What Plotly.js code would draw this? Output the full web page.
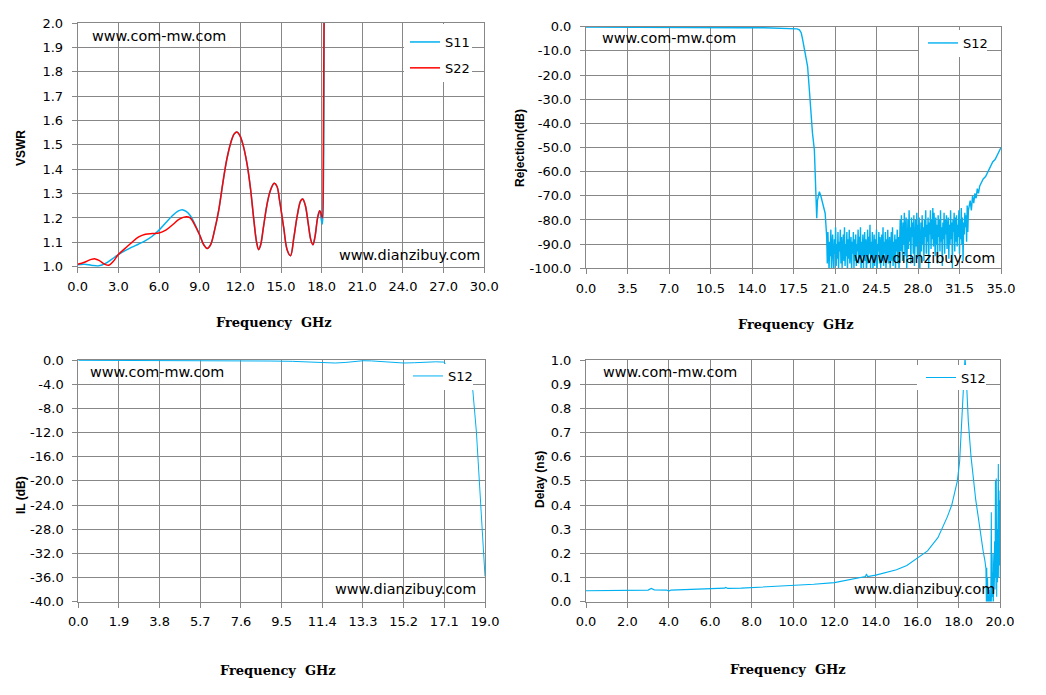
<!DOCTYPE html>
<html>
<head>
<meta charset="utf-8">
<script src="https://cdn.plot.ly/plotly-3.0.1.min.js"></script>
<style>
  html, body { margin: 0; padding: 0; background: #fff; }
  #chart { width: 1046px; height: 695px; }
</style>
</head>
<body>
<div id="chart"></div>
<script>
// ---- VSWR (S11 / S22) ----
const vswrS11Freq = [0, 0.5, 1.0, 1.5, 2.0, 2.5, 3.0, 3.5, 4.0, 4.5, 5.0, 5.5, 6.0, 6.5, 7.0, 7.4, 7.7, 8.0, 8.3, 8.6, 9.0, 9.3, 9.55, 9.8, 10.1, 10.4, 10.7, 11.0, 11.3, 11.55, 11.75, 11.95, 12.2, 12.5, 12.75, 13.0, 13.2, 13.35, 13.5, 13.7, 13.95, 14.2, 14.5, 14.7, 14.9, 15.2, 15.45, 15.7, 15.95, 16.2, 16.45, 16.6, 16.8, 17.0, 17.2, 17.35, 17.5, 17.7, 17.85, 17.95, 18.05, 18.12, 18.2];
const vswrS11 = [1.008, 1.01, 1.006, 1.003, 1.012, 1.03, 1.05, 1.066, 1.08, 1.093, 1.107, 1.125, 1.15, 1.18, 1.21, 1.228, 1.234, 1.227, 1.21, 1.18, 1.13, 1.09, 1.075, 1.09, 1.15, 1.23, 1.34, 1.44, 1.51, 1.545, 1.553, 1.54, 1.50, 1.42, 1.32, 1.19, 1.10, 1.07, 1.09, 1.16, 1.25, 1.31, 1.342, 1.33, 1.27, 1.16, 1.07, 1.045, 1.12, 1.21, 1.27, 1.278, 1.25, 1.18, 1.11, 1.09, 1.12, 1.2, 1.23, 1.2, 1.175, 1.3, 2.3];
const vswrS22Freq = [0, 0.5, 1.0, 1.3, 1.6, 2.0, 2.3, 2.6, 3.0, 3.5, 4.0, 4.5, 5.0, 5.5, 6.0, 6.5, 7.0, 7.5, 8.0, 8.3, 8.6, 9.0, 9.3, 9.55, 9.8, 10.1, 10.4, 10.7, 11.0, 11.3, 11.55, 11.75, 11.95, 12.2, 12.5, 12.75, 13.0, 13.2, 13.35, 13.5, 13.7, 13.95, 14.2, 14.5, 14.7, 14.9, 15.2, 15.45, 15.7, 15.95, 16.2, 16.45, 16.6, 16.8, 17.0, 17.2, 17.35, 17.5, 17.7, 17.85, 17.95, 18.05, 18.12, 18.2];
const vswrS22 = [1.01, 1.018, 1.03, 1.032, 1.025, 1.01, 1.006, 1.02, 1.05, 1.075, 1.1, 1.122, 1.133, 1.136, 1.138, 1.15, 1.172, 1.195, 1.205, 1.2, 1.175, 1.13, 1.09, 1.075, 1.09, 1.15, 1.23, 1.34, 1.44, 1.51, 1.545, 1.553, 1.54, 1.50, 1.42, 1.32, 1.19, 1.10, 1.07, 1.09, 1.16, 1.25, 1.31, 1.342, 1.33, 1.27, 1.16, 1.07, 1.045, 1.12, 1.21, 1.27, 1.278, 1.25, 1.18, 1.11, 1.09, 1.12, 1.2, 1.23, 1.22, 1.2, 1.45, 2.3];
const vswrFreqTicks = [0, 3, 6, 9, 12, 15, 18, 21, 24, 27, 30];
const vswrTicks = [1.0, 1.1, 1.2, 1.3, 1.4, 1.5, 1.6, 1.7, 1.8, 1.9, 2.0];

// ---- Rejection (S12) ----
const rejPassFreq = [0, 1, 3, 5, 7, 9, 11, 13, 15, 16, 17, 17.5, 17.8, 18.0, 18.15, 18.26, 18.4, 18.55, 18.69, 18.85, 18.98, 19.1, 19.26, 19.4, 19.46, 19.52, 19.6, 19.68, 19.8, 19.97, 20.17];
const rejPass = [-0.1, -0.15, -0.2, -0.25, -0.3, -0.35, -0.4, -0.45, -0.45, -0.5, -0.55, -0.65, -0.9, -1.3, -2.5, -5, -9, -13, -16.5, -27, -37.2, -44, -51, -66.2, -79.3, -72, -69, -68.3, -70, -73, -77.2];
// stopband floor, 0.05 GHz sweep from 20.3 GHz
const rejFloorStart = 20.3;
const rejFloorStep = 0.05;
const rejFloor = [
  -87, -98, -85, -93, -101, -89, -95, -84, -100, -91,
  -86, -97, -103, -88, -94, -83, -99, -90, -96, -85,
  -101, -89, -93, -84, -98, -87, -100, -92, -86, -97,
  -83, -99, -90, -95, -85, -102, -88, -96, -84, -98,
  -91, -87, -101, -89, -94, -85, -100, -88, -97, -86,
  -99, -90, -93, -84, -98, -87, -96, -83, -102, -89,
  -95, -86, -100, -91, -85, -97, -88, -103, -90, -84,
  -98, -87, -94, -82, -100, -89, -96, -85, -101, -92,
  -86, -99, -88, -95, -84, -102, -90, -93, -85, -98,
  -87, -100, -91, -86, -97, -83, -99, -89, -94, -85,
  -101, -88, -96, -84, -98, -90, -87, -100, -92, -85,
  -97, -83, -99, -89, -95, -86, -102, -88, -93, -84,
  -98, -87, -100, -90,
  -80, -93, -78, -88, -97, -81, -90, -77, -95, -84,
  -79, -100, -86, -80, -92, -76, -89, -83, -98, -79,
  -87, -81, -94, -78, -99, -85, -80, -91, -77, -96,
  -82, -89, -79, -101, -84, -81, -93, -78, -90, -83,
  -97, -80, -87, -76, -94, -82, -89, -79, -100, -81,
  -86, -76, -92, -80, -88, -75, -91, -77, -84, -95,
  -79, -90, -82, -98, -78, -87, -80, -93, -76, -89,
  -83, -99, -81, -88, -77, -94, -80, -86, -78, -92,
  -84, -79, -96, -82, -90, -76, -88, -81, -100, -80,
  -85, -77, -93, -79, -89, -78, -91, -82, -87, -76,
  -94, -80, -88, -75, -90, -79, -97, -81, -86, -77,
  -83, -78, -89, -74, -85, -76
];
const rejRiseFreq = [32.3, 32.4, 32.5, 32.6, 32.7, 32.8, 32.9, 33.0, 33.1, 33.2, 33.3, 33.5, 33.7, 33.9, 34.1, 34.3, 34.5, 34.7, 34.85, 35.0];
const rejRise = [-74, -72, -76, -70, -73, -69, -71, -67, -69, -66, -65, -63, -62, -60, -58, -56, -55, -53, -51.5, -50];
const rejFreqTicks = [0, 3.5, 7, 10.5, 14, 17.5, 21, 24.5, 28, 31.5, 35];
const rejTicks = [0, -10, -20, -30, -40, -50, -60, -70, -80, -90, -100];

// ---- Insertion loss (S12) ----
const ilFreq = [0, 1, 2, 3, 4, 5, 6, 7, 8, 9, 10, 10.5, 11, 11.5, 12, 12.5, 13, 13.3, 13.7, 14.2, 14.7, 15.2, 15.7, 16.2, 16.7, 17.1, 17.25, 17.6, 18.0, 18.2, 18.43, 18.6, 18.77, 18.9, 19.0];
const ilS12 = [-0.05, -0.05, -0.06, -0.07, -0.08, -0.09, -0.1, -0.12, -0.14, -0.17, -0.22, -0.3, -0.42, -0.5, -0.5, -0.4, -0.2, -0.12, -0.15, -0.3, -0.45, -0.5, -0.45, -0.35, -0.3, -0.35, -1.5, -2.5, -3.5, -4.2, -5, -12, -21.5, -29, -35.8];
const ilFreqTicks = [0, 1.9, 3.8, 5.7, 7.6, 9.5, 11.4, 13.3, 15.2, 17.1, 19.0];
const ilTicks = [0, -4, -8, -12, -16, -20, -24, -28, -32, -36, -40];

// ---- Group delay (S12) ----
const delayFreq = [0, 1, 2, 3, 3.15, 3.2, 3.3, 3.9, 4.0, 4.1, 5, 6, 6.7, 6.75, 6.85, 7.5, 8.0, 8.05, 9, 10, 11, 12, 13, 13.5, 13.55, 13.6, 14, 14.5, 15, 15.5, 16, 16.5, 17, 17.2, 17.45, 17.67, 17.85, 17.94, 18.05, 18.15, 18.25, 18.31, 18.37, 18.47, 18.6, 18.71, 18.83, 18.95, 19.07, 19.19, 19.27, 19.32,
  19.34, 19.36, 19.38, 19.40, 19.42, 19.44, 19.46, 19.48, 19.50, 19.52, 19.54, 19.56, 19.58, 19.60, 19.62, 19.64, 19.66, 19.68, 19.70, 19.72, 19.74, 19.76, 19.78, 19.80, 19.82, 19.84, 19.86, 19.88, 19.90, 19.92, 19.94, 19.96, 19.98, 20.0];
const delayS12 = [0.045, 0.046, 0.047, 0.048, 0.055, 0.052, 0.049, 0.048, 0.044, 0.048, 0.05, 0.053, 0.056, 0.059, 0.055, 0.056, 0.058, 0.061, 0.063, 0.068, 0.072, 0.079, 0.094, 0.104, 0.115, 0.104, 0.11, 0.12, 0.132, 0.15, 0.18, 0.21, 0.265, 0.3, 0.35, 0.40, 0.46, 0.5, 0.58, 0.745, 0.92, 1.01, 0.93, 0.745, 0.6, 0.5, 0.42, 0.35, 0.27, 0.207, 0.17, 0.138,
  0.0, 0.14, 0.0, 0.1, 0.0, 0.02, 0.0, 0.05, 0.0, 0.02, 0.0, 0.08, 0.37, 0.0, 0.12, 0.02, 0.2, 0.0, 0.15, 0.03, 0.25, 0.05, 0.5, 0.1, 0.51, 0.02, 0.3, 0.08, 0.35, 0.57, 0.1, 0.42, 0.15, 0.46];
const delayFreqTicks = [0, 2, 4, 6, 8, 10, 12, 14, 16, 18, 20];
const delayTicks = [0, 0.1, 0.2, 0.3, 0.4, 0.5, 0.6, 0.7, 0.8, 0.9, 1.0];

const BLUE = '#00b0f0';
const RED = '#ff0000';
const GRID = '#878787';
const TICK_FONT = { family: 'DejaVu Sans, sans-serif', size: 13, color: '#000' };
const WM_FONT = { family: 'DejaVu Sans, sans-serif', size: 14.4, color: '#000' };
const XT_FONT = { family: 'DejaVu Serif, serif', size: 13, color: '#000', weight: 'bold' };
const YT_FONT = { family: 'Liberation Sans, Arial, sans-serif', size: 12, color: '#000', weight: 'bold' };

const W = 1046, H = 695;
const px = x => x / W;
const py = y => 1 - y / H;

// plot areas in page pixels: [left, top, right, bottom]
const BOXES = [
  [77.7, 23, 484.3, 266.7],
  [586, 26.7, 1001, 268.3],
  [78.3, 360, 485, 601.7],
  [586, 360, 1000, 601.7],
];
// white legend panels (they hide grid and series underneath)
const LEGEND_PANELS = [
  [404, 24, 472, 82],
  [919, 30, 987, 57],
  [405, 364, 473, 390],
  [917, 365, 986, 390],
];

function axis(domain, range, ticks, extra) {
  return {
    domain, range, tickvals: ticks, ticktext: ticks.map(v => v.toFixed(1)),
    showgrid: true, gridcolor: GRID, gridwidth: 1,
    showline: true, linecolor: GRID, linewidth: 1, mirror: true,
    ticks: 'outside', ticklen: 5, tickcolor: GRID, tickwidth: 1,
    zeroline: false, tickfont: TICK_FONT, fixedrange: true,
    ...extra,
  };
}

function legendAt(x, y) {
  return {
    x: px(x), y: py(y), xanchor: 'left', yanchor: 'top',
    bgcolor: 'rgba(0,0,0,0)', borderwidth: 0, itemwidth: 30,
    font: { family: 'DejaVu Sans, sans-serif', size: 13, color: '#000' },
    tracegroupgap: 6,
  };
}

const rejFloorFreq = rejFloor.map((_, i) => +(rejFloorStart + i * rejFloorStep).toFixed(2));
const rejFreq = [...rejPassFreq, ...rejFloorFreq, ...rejRiseFreq];
const rejS12 = [...rejPass, ...rejFloor, ...rejRise];

const traces = [
  { type: 'scatter', mode: 'lines', name: 'S11', x: vswrS11Freq, y: vswrS11, xaxis: 'x', yaxis: 'y',
    line: { color: BLUE, width: 1.5, shape: 'spline', smoothing: 1 }, legend: 'legend', legendgroup: 'a' },
  { type: 'scatter', mode: 'lines', name: 'S22', x: vswrS22Freq, y: vswrS22, xaxis: 'x', yaxis: 'y',
    line: { color: RED, width: 1.5, shape: 'spline', smoothing: 1 }, legend: 'legend', legendgroup: 'b' },
  { type: 'scatter', mode: 'lines', name: 'S12', x: rejFreq, y: rejS12, xaxis: 'x2', yaxis: 'y2',
    line: { color: BLUE, width: 1.4 }, legend: 'legend2' },
  { type: 'scatter', mode: 'lines', name: 'S12', x: ilFreq, y: ilS12, xaxis: 'x3', yaxis: 'y3',
    line: { color: BLUE, width: 1 }, legend: 'legend3' },
  { type: 'scatter', mode: 'lines', name: 'S12', x: delayFreq, y: delayS12, xaxis: 'x4', yaxis: 'y4',
    line: { color: BLUE, width: 1.1 }, legend: 'legend4' },
];

const dom = b => ({ x: [px(b[0]), px(b[2])], y: [py(b[3]), py(b[1])] });
const d = BOXES.map(dom);

function label(text, x, y, font, extra) {
  return { text, x: px(x), y: py(y), xref: 'paper', yref: 'paper', showarrow: false,
    xanchor: 'center', yanchor: 'middle', font, ...extra };
}

const annotations = [
  // watermarks
  label('www.com-mw.com', 90, 36, WM_FONT, { xanchor: 'left' }),
  label('www.dianzibuy.com', 337, 255, WM_FONT, { xanchor: 'left' }),
  label('www.com-mw.com', 600, 38, WM_FONT, { xanchor: 'left' }),
  label('www.dianzibuy.com', 852, 258, WM_FONT, { xanchor: 'left' }),
  label('www.com-mw.com', 88, 372, WM_FONT, { xanchor: 'left' }),
  label('www.dianzibuy.com', 333, 589, WM_FONT, { xanchor: 'left' }),
  label('www.com-mw.com', 601, 372, WM_FONT, { xanchor: 'left' }),
  label('www.dianzibuy.com', 852, 589, WM_FONT, { xanchor: 'left' }),
  // axis titles
  label('Frequency  GHz', 274, 322, XT_FONT),
  label('Frequency  GHz', 796, 324, XT_FONT),
  label('Frequency  GHz', 278, 670, XT_FONT),
  label('Frequency  GHz', 788, 669, XT_FONT),
  label('VSWR', 21, 148, YT_FONT, { textangle: -90 }),
  label('Rejection(dB)', 520, 148, YT_FONT, { textangle: -90 }),
  label('IL (dB)', 21, 495, YT_FONT, { textangle: -90 }),
  label('Delay (ns)', 540, 480, YT_FONT, { textangle: -90 }),
];

const shapes = LEGEND_PANELS.map(p => ({
  type: 'rect', xref: 'paper', yref: 'paper', layer: 'above',
  x0: px(p[0]), x1: px(p[2]), y0: py(p[3]), y1: py(p[1]),
  fillcolor: '#fff', line: { width: 0 },
}));

const layout = {
  width: W, height: H,
  margin: { t: 0, r: 0, b: 0, l: 0 },
  paper_bgcolor: '#fff', plot_bgcolor: '#fff',
  showlegend: true,
  xaxis: axis(d[0].x, [0, 30], vswrFreqTicks, { anchor: 'y', ticklabelstandoff: 3 }),
  yaxis: axis(d[0].y, [1, 2], vswrTicks, { anchor: 'x', ticklabelstandoff: 6 }),
  xaxis2: axis(d[1].x, [0, 35], rejFreqTicks, { anchor: 'y2', ticklabelstandoff: 3 }),
  yaxis2: axis(d[1].y, [-100, 0], rejTicks, { anchor: 'x2', ticklabelstandoff: 6 }),
  xaxis3: axis(d[2].x, [0, 19], ilFreqTicks, { anchor: 'y3', ticklabelstandoff: 3 }),
  yaxis3: axis(d[2].y, [-40, 0], ilTicks, { anchor: 'x3', ticklabelstandoff: 6 }),
  xaxis4: axis(d[3].x, [0, 20], delayFreqTicks, { anchor: 'y4', ticklabelstandoff: 3 }),
  yaxis4: axis(d[3].y, [0, 1], delayTicks, { anchor: 'x4', ticklabelstandoff: 6 }),
  legend: legendAt(405, 27),
  legend2: legendAt(923, 28),
  legend3: legendAt(408, 361),
  legend4: legendAt(921, 362.5),
  shapes,
  annotations,
};

Plotly.newPlot('chart', traces, layout, { displayModeBar: false, staticPlot: true });
</script>
</body>
</html>
